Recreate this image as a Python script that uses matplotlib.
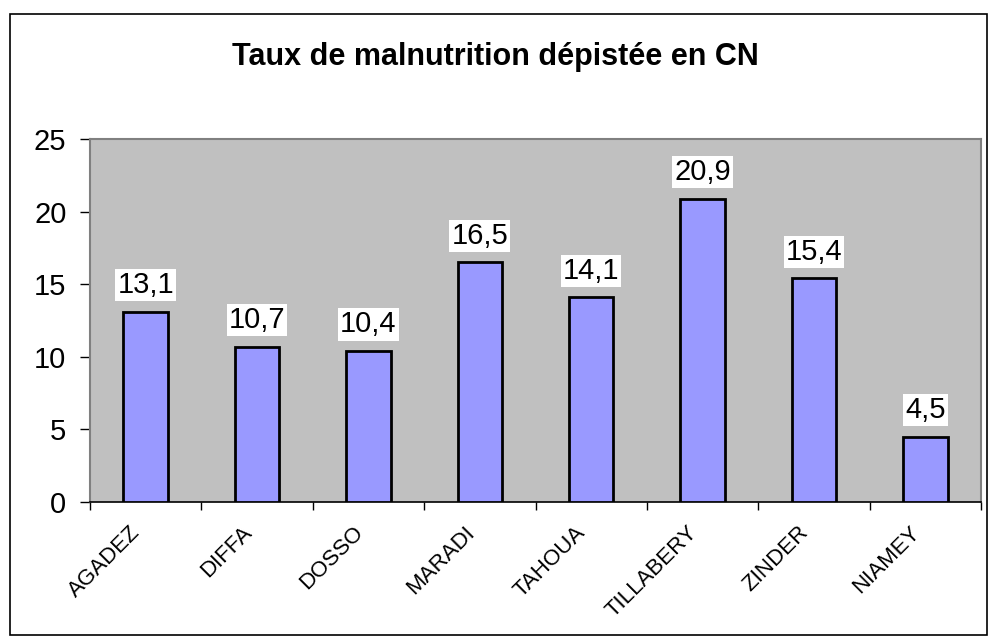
import matplotlib
matplotlib.use("Agg")
import matplotlib.pyplot as plt
from matplotlib.patches import Rectangle
from matplotlib.transforms import ScaledTranslation

REGIONS = ["AGADEZ", "DIFFA", "DOSSO", "MARADI", "TAHOUA", "TILLABERY", "ZINDER", "NIAMEY"]
RATES = [13.1, 10.7, 10.4, 16.5, 14.1, 20.9, 15.4, 4.5]
YTICKS = [0, 5, 10, 15, 20, 25]
TITLE = "Taux de malnutrition dépistée en CN"

plt.rcParams["font.family"] = ["Liberation Sans", "DejaVu Sans"]

W, H = 990, 639
fig = plt.figure(figsize=(W / 100, H / 100), dpi=100)
fig.patch.set_facecolor("white")

# outer chart border
fig.add_artist(Rectangle((10 / W, 1 - 635 / H), 977 / W, 621 / H, transform=fig.transFigure,
                         fill=False, edgecolor="black", lw=1.2))

ax = fig.add_axes([90 / W, 1 - 502 / H, (981 - 90) / W, (502 - 139) / H])
ax.set_facecolor("#c0c0c0")

x = range(len(REGIONS))
ax.bar(x, RATES, width=0.4, color="#9999ff", edgecolor="black", lw=2, zorder=3)
for xi, v in zip(x, RATES):
    ax.annotate(f"{v:.1f}".replace(".", ","), (xi, v), xytext=(0, 9), textcoords="offset points",
                ha="center", va="bottom", fontsize=21,
                bbox=dict(facecolor="white", edgecolor="none", pad=1.5), zorder=4)

ax.set_xlim(-0.5, len(REGIONS) - 0.5)
ax.set_ylim(0, 25)
ax.set_yticks(YTICKS)
ax.tick_params(axis="y", labelsize=21, length=7, width=1, direction="out", pad=10)

# category ticks sit on the boundaries, labels at the centres
ax.set_xticks([i - 0.5 for i in range(len(REGIONS) + 1)])
ax.set_xticklabels([])
ax.tick_params(axis="x", length=6, width=1, direction="out")
ax.set_xticks(list(x), minor=True)
labels = ax.set_xticklabels(REGIONS, minor=True, rotation=45, ha="right", va="top",
                            rotation_mode="anchor", fontsize=16)
ax.tick_params(axis="x", which="minor", length=0, pad=0)
shift = ScaledTranslation(-16 / 100, -20 / 100, fig.dpi_scale_trans)
for lab in labels:
    lab.set_transform(lab.get_transform() + shift)

for side in ("top", "right", "left"):
    ax.spines[side].set_color("#808080")
    ax.spines[side].set_linewidth(1.5)
ax.spines["bottom"].set_color("black")
ax.spines["bottom"].set_linewidth(1.2)

fig.text(495 / W, 1 - 65 / H, TITLE, ha="center", va="baseline", fontsize=22, fontweight="bold")

fig.savefig("out.png", dpi=100)
